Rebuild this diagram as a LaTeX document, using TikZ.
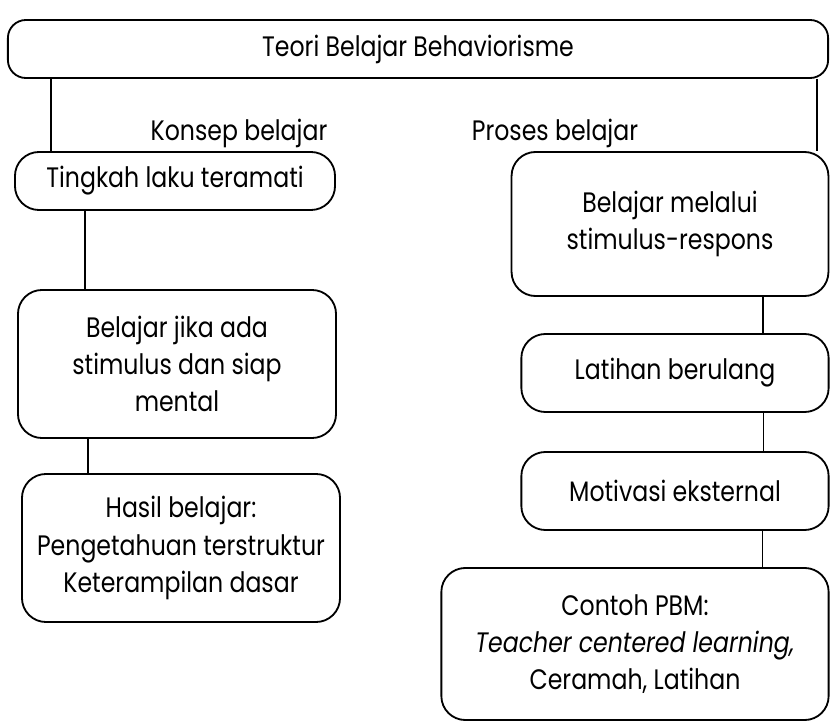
\documentclass[tikz,border=0pt]{standalone}
\usepackage{fontspec}
\setmainfont{Poppins}[FakeStretch=0.84]
\tikzset{
  kotak/.style={draw, line width=1.3pt, rounded corners=0.6cm, align=center, inner sep=0pt},
  garis/.style={line width=1.3pt},
  judul/.style={font=\fontsize{20}{26.5}\selectfont}
}
\begin{document}
\begin{tikzpicture}[x=0.025cm, y=-0.025cm, judul]
    \useasboundingbox (0,0) rectangle (831,722);

    % Kotak utama
    \node[kotak, minimum width=20.5cm, minimum height=1.45cm, rounded corners=0.45cm] (teori) at (418,49) {Teori Belajar Behaviorisme};

    % Label cabang
    \node (konsep) at (239,133) {Konsep belajar};
    \node (proses) at (555,133) {Proses belajar};

    % Cabang kiri
    \node[kotak, minimum width=8cm, minimum height=1.45cm] (tingkah) at (175,181) {Tingkah laku teramati};
    \node[kotak, minimum width=7.95cm, minimum height=3.7cm] (jika) at (177,364) {Belajar jika ada\\stimulus dan siap\\mental};
    \node[kotak, minimum width=7.95cm, minimum height=3.7cm] (hasil) at (181,548) {Hasil belajar:\\Pengetahuan terstruktur\\Keterampilan dasar};

    % Cabang kanan
    \node[kotak, minimum width=7.92cm, minimum height=3.6cm] (melalui) at (670,224) {Belajar melalui\\stimulus-respons};
    \node[kotak, minimum width=7.68cm, minimum height=1.95cm] (latihan) at (675,373) {Latihan berulang};
    \node[kotak, minimum width=7.68cm, minimum height=1.95cm] (motivasi) at (675,491) {Motivasi eksternal};
    \node[kotak, minimum width=9.68cm, minimum height=3.8cm] (contoh) at (635,644) {Contoh PBM:\\\textit{Teacher centered learning,}\\Ceramah, Latihan};

    % Garis penghubung
    \coordinate (k1) at ([xshift=0.925cm]tingkah.north west);
    \coordinate (k2) at ([xshift=1.775cm]tingkah.south west);
    \coordinate (k3) at ([xshift=1.775cm]jika.south west);
    \coordinate (p1) at ([xshift=-0.3cm]melalui.north east);
    \coordinate (p2) at ([xshift=-1.65cm]melalui.south east);
    \coordinate (p3) at ([xshift=-1.65cm]latihan.south east);
    \coordinate (p4) at ([xshift=-1.675cm]motivasi.south east);
    \draw[garis] (k1 |- teori.south) -- (k1);
    \draw[garis] (k2) -- (k2 |- jika.north);
    \draw[garis] (k3) -- (k3 |- hasil.north);
    \draw[garis] (p1 |- teori.south) -- (p1);
    \draw[garis] (p2) -- (p2 |- latihan.north);
    \draw[garis] (p3) -- (p3 |- motivasi.north);
    \draw[garis] (p4) -- (p4 |- contoh.north);
\end{tikzpicture}
\end{document}
